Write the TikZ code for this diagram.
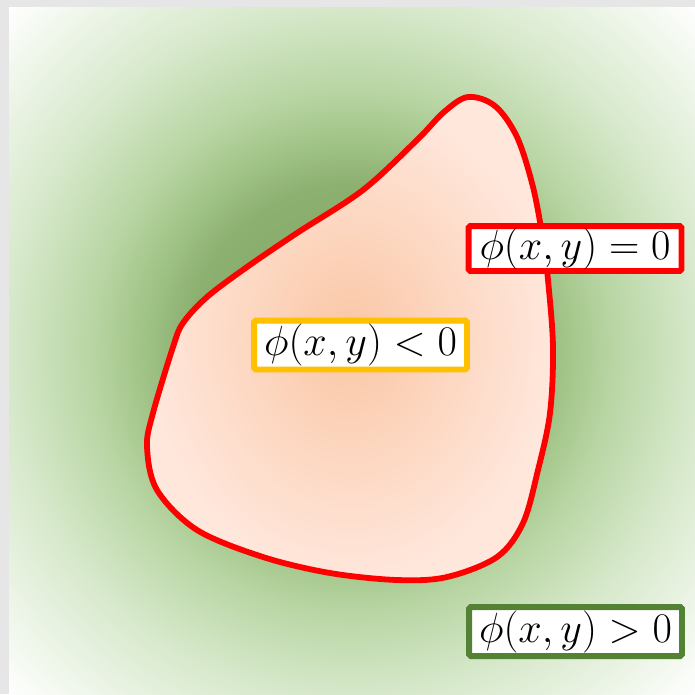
\RequirePackage{fix-cm}
\documentclass[tikz,border=0pt]{standalone}
\usepackage{amsmath,amssymb}
\usepackage{tikz}
\usetikzlibrary{arrows,arrows.meta}

\definecolor{pagegrey}{HTML}{E6E6E6}
\definecolor{fielddark}{HTML}{7CA462}
\definecolor{fieldmid}{HTML}{8CB070}
\definecolor{fieldsoft}{HTML}{A5C78C}
\definecolor{fieldpale}{HTML}{B8D5A3}
\definecolor{fieldlight}{HTML}{D6E8CA}
\definecolor{blobcore}{HTML}{FAC6A4}
\definecolor{blobrim}{HTML}{FFE7DC}
\definecolor{zeroline}{HTML}{FF0000}
\definecolor{insidebox}{HTML}{FFC000}
\definecolor{outsidebox}{HTML}{548235}

\pgfdeclareradialshading{fieldshade}{\pgfpoint{0bp}{0bp}}{color(0bp)=(fielddark); color(12bp)=(fieldmid); color(16bp)=(fieldsoft); color(19bp)=(fieldpale); color(25bp)=(fieldlight); color(35.5bp)=(white); color(50bp)=(white)}
\pgfdeclareradialshading{blobshade}{\pgfpoint{0bp}{0bp}}{color(0bp)=(blobcore); color(12bp)=(blobcore!50!blobrim); color(25bp)=(blobrim); color(50bp)=(blobrim)}

\begin{document}
\begin{tikzpicture}[
x=0.02cm, y=-0.02cm,
levelset/.style={shade, shading=blobshade, draw=zeroline, line width=3.3pt},
phibox/.style={fill=white, line width=3.4pt, rounded corners=1pt, inner sep=0pt, minimum width=4.26cm, minimum height=0.98cm, font=\fontsize{24}{28}\selectfont} ]

\fill[pagegrey] (0,0) rectangle (695,694);

\shade[shading=fieldshade] (9,7) rectangle (695,694);

\path[levelset] plot[smooth cycle, tension=0.55] coordinates {(468,97) (495,106) (517,137) (533,187) (543,240) (548,280) (553,347) (550,413) (538,470) (523,523) (497,557) (447,577) (397,580) (330,573) (263,557) (197,530) (157,490) (147,447) (153,413) (173,347) (183,323) (207,297) (247,267) (297,233) (363,190) (417,140) (444,112)};

\node[phibox, draw=zeroline, minimum height=0.9cm](zero) at (575,248.5) {$\phi(x,y)=0$};

\node[phibox, draw=insidebox](inside) at (360.5,345) {$\phi(x,y)<0$};

\node[phibox, draw=outsidebox](outside) at (575.5,631.5) {$\phi(x,y)>0$};
\end{tikzpicture}
\end{document}
